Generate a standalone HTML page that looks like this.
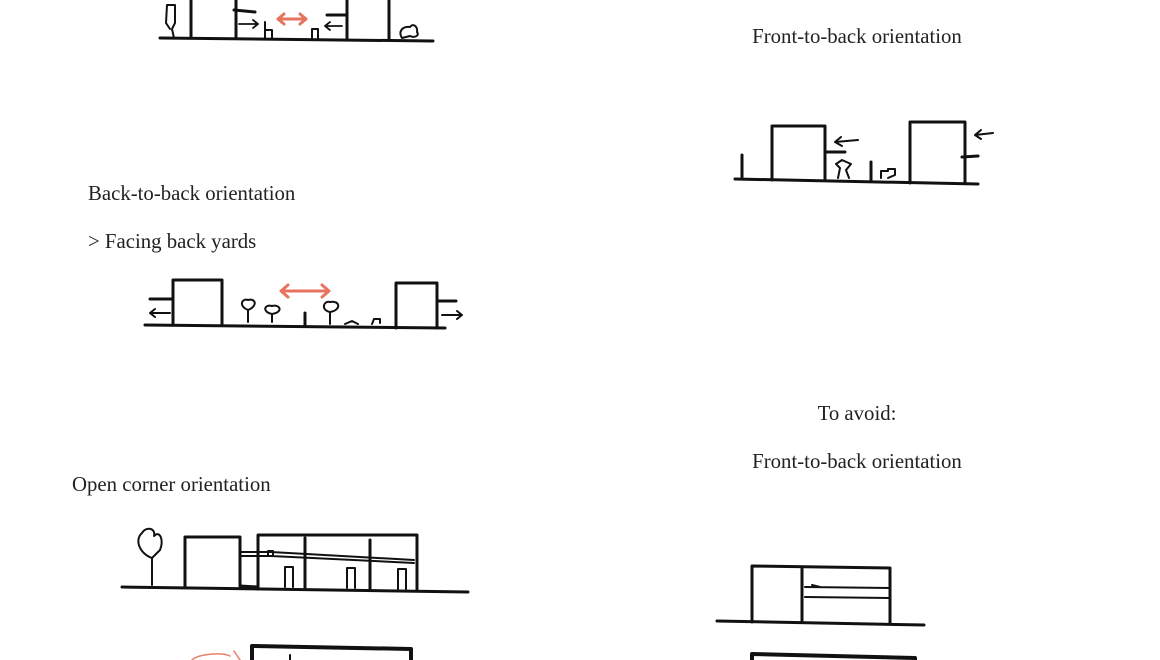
<!DOCTYPE html>
<html><head><style>
html,body{margin:0;padding:0;background:#fff;}
svg{display:block}
text{font-family:"Liberation Serif",serif;font-size:20.8px;fill:#222}
</style></head><body>
<svg width="1160" height="660" viewBox="0 0 1160 660" xmlns="http://www.w3.org/2000/svg">
<g fill="none" stroke="#111" stroke-width="3" stroke-linecap="round" stroke-linejoin="round">
<path d="M160 38 L433 41"/>
<path d="M191 0 V38 M236 0 V38 M347 0 V39 M389 0 V39"/>
<path d="M234 10 L255 12 M327 15 L347 15"/>
<path stroke-width="2" d="M167 5 h8 v18 l-3 6 l2 9 M167 5 l-1 18 l4 6"/>
<path stroke-width="1.8" d="M239 24 H258 M253 20 L258 24 L253 28 M342 26 H325 M330 22 L325 26 L330 30"/>
<path stroke-width="2" d="M265 22 V38 M265 30 H272 V38 M312 38 V29 H318 V38"/>
<path stroke-width="2" d="M402 38 C398 32 402 26 410 27 C414 22 418 28 417 32 C420 36 414 38 410 36 Z"/>
<path d="M735 179 L978 184"/>
<path d="M742 155 V179 M772 180 V126 H825 V180 M825 152 H845 M871 162 V180 M910 183 V122 H965 V183 M962 157 L978 156"/>
<path stroke-width="2" d="M858 140 L835 142 M841 137 L835 142 L842 146 M993 133 L975 135 M981 130 L975 135 L981 139"/>
<path stroke-width="2" d="M838 178 L840 168 L836 164 L842 160 L851 164 L846 170 L849 178 M881 178 V171 H888 V169 H895 V175 L888 178"/>
<path d="M145 325 L445 328"/>
<path d="M173 324 V280 H222 V324 M150 299 H173 M396 328 V283 H437 V328 M437 301 H456 M305 313 V326"/>
<path stroke-width="2" d="M170 313 H150 M155 309 L150 313 L155 317 M442 315 H462 M457 311 L462 315 L457 319"/>
<path stroke-width="2" d="M248 322 V310 M248 310 C238 306 242 298 248 300 C256 298 258 306 248 310 M272 322 V314 M272 314 C262 312 264 304 272 306 C280 304 284 312 272 314 M330 324 V312 M330 312 C320 310 324 300 330 302 C340 300 342 310 330 312 M345 324 L352 321 L358 324 M372 324 L374 319 H380 V323"/>
<path d="M122 587 L468 592"/>
<path d="M185 586 V537 H240 V586 M240 586 L258 587 M258 589 V535 H417 V590 M305 538 V588 M370 540 V589"/>
<path stroke-width="2" d="M240 552 H271 L414 560 M240 556 H271 L414 563 M268 551 h5 v5 h-5 z"/>
<path stroke-width="2" d="M285 587 V567 H293 V587 M347 588 V568 H355 V588 M398 589 V569 H406 V589"/>
<path stroke-width="2" d="M152 585 V558 M152 558 C140 554 134 540 142 533 C146 526 156 528 154 536 C160 530 164 540 160 550 Z"/>
<path stroke-width="4" d="M252 660 V646 L411 649 V660"/>
<path stroke-width="2" d="M290 655 V660"/>
<path stroke="#e8806a" stroke-width="1.5" d="M192 660 C198 654 222 652 230 656 M234 651 L240 660"/>
<path d="M717 621 L924 625"/>
<path d="M752 622 V566 L890 568 V623 M802 567 V622"/>
<path stroke-width="2" d="M805 587 L890 588 M805 597 L890 598 M812 585 l8 2"/>
<path stroke-width="4" d="M752 660 V654 L915 658 V660"/>
</g>
<g fill="none" stroke="#e8735e" stroke-width="3" stroke-linecap="round" stroke-linejoin="round">
<path d="M278 19 H306 M284 14 L278 19 L284 24 M300 14 L306 19 L300 24"/>
<path d="M281 291 H329 M288 285 L281 291 L288 297 M322 285 L329 291 L322 297"/>
</g>
<text x="857" y="43" text-anchor="middle">Front-to-back orientation</text>
<text x="88" y="200">Back-to-back orientation</text>
<text x="88" y="248">&gt; Facing back yards</text>
<text x="857" y="420" text-anchor="middle">To avoid:</text>
<text x="857" y="468" text-anchor="middle">Front-to-back orientation</text>
<text x="72" y="491">Open corner orientation</text>
</svg>
</body></html>
